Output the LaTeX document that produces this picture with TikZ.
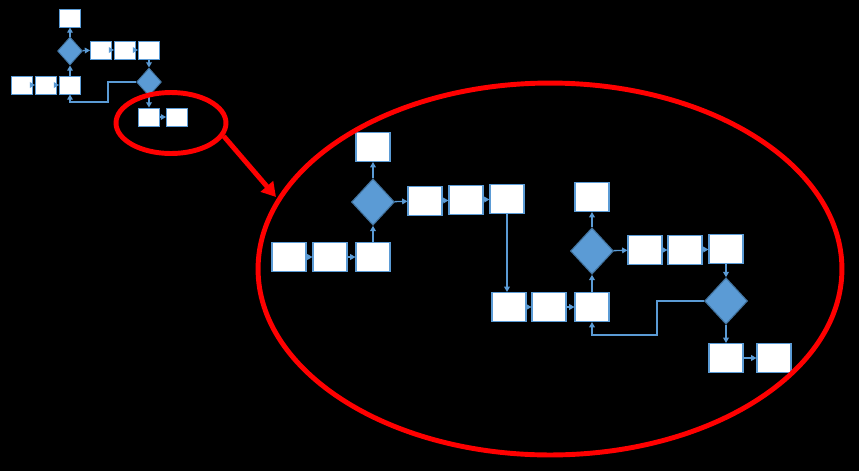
\documentclass[tikz,border=0pt]{standalone}
\usepackage{tikz}
\usetikzlibrary{arrows.meta,positioning,shapes.geometric}
\definecolor{fcBlue} {HTML}{5B9BD5}
\definecolor{fcEdge} {HTML}{41719C}
\definecolor{zmRed}  {HTML}{FF0000}

\begin{document}
\begin{tikzpicture}[x=0.02cm,y=-0.02cm,
      bs/.style={draw=fcBlue,fill=white,line width=0.5pt,inner sep=0pt,
                 minimum width=0.42cm,minimum height=0.36cm},
      bb/.style={draw=fcBlue,fill=white,line width=0.6pt,inner sep=0pt,
                 minimum width=0.68cm,minimum height=0.58cm},
      ds/.style={diamond,draw=fcEdge,fill=fcBlue,line width=0.5pt,inner sep=0pt,
                 minimum width=0.5cm,minimum height=0.56cm},
      db/.style={diamond,draw=fcEdge,fill=fcBlue,line width=0.6pt,inner sep=0pt,
                 minimum width=0.86cm,minimum height=0.93cm},
      fl/.style={-{Triangle[length=3pt,width=3.2pt]},fcBlue,line width=0.8pt},
      zm/.style={ellipse,draw=zmRed,line width=2.8pt,inner sep=0pt}]

    \fill[black] (0,0) rectangle (859,471);

    % small overview chart
    \node[bs] (sTop) at (70,18) {};
    \node[ds] (sDia1) at (70,51) {};
    \node[bs] (sR1) at (101,50) {};
    \node[bs] (sR2) at (125,50) {};
    \node[bs] (sR3) at (149,50) {};
    \node[bs] (sL1) at (22,85) {};
    \node[bs] (sL2) at (46,85) {};
    \node[bs] (sL3) at (70,85) {};
    \node[ds] (sDia2) at (149,82) {};
    \node[bs] (sB1) at (149,117) {};
    \node[bs] (sB2) at (177,117) {};

    \foreach \a/\b in {sL1/sL2,sL2/sL3,sL3/sDia1,sDia1/sTop,sDia1/sR1,sR1/sR2,sR2/sR3,
                       sR3/sDia2,sDia2/sB1,sB1/sB2}
      \draw[fl] (\a) -- (\b);
    \draw[fl] (sDia2.west) -- (108,82) -- (108,102) -- (70,102) -- (sL3.south);

    % zoomed chart
    \node[bb] (bTop1) at (373,147) {};
    \node[db] (bDia1) at (373,202) {};
    \node[bb] (bR1) at (425,201) {};
    \node[bb] (bR2) at (466,200) {};
    \node[bb] (bR3) at (507,199) {};
    \node[bb] (bL1) at (289,257) {};
    \node[bb] (bL2) at (330,257) {};
    \node[bb] (bL3) at (373,257) {};
    \node[bb] (bM1) at (509,307) {};
    \node[bb] (bM2) at (549,307) {};
    \node[bb] (bM3) at (592,307) {};
    \node[bb] (bTop2) at (592,197) {};
    \node[db] (bDia2) at (592,251) {};
    \node[bb] (bS1) at (645,250) {};
    \node[bb] (bS2) at (685,250) {};
    \node[bb] (bS3) at (726,249) {};
    \node[db] (bDia3) at (726,301) {};
    \node[bb] (bE1) at (726,358) {};
    \node[bb] (bE2) at (774,358) {};

    \foreach \a/\b in {bL1/bL2,bL2/bL3,bL3/bDia1,bDia1/bTop1,bDia1/bR1,bR1/bR2,bR2/bR3,
                       bM1/bM2,bM2/bM3,bM3/bDia2,bDia2/bTop2,bDia2/bS1,bS1/bS2,bS2/bS3,
                       bS3/bDia3,bDia3/bE1,bE1/bE2}
      \draw[fl] (\a) -- (\b);
    \draw[fl] (bR3.south) -- (bR3.south |- bM1.north);
    \draw[fl] (bDia3.west) -- (657,301) -- (657,335) -- (592,335) -- (bM3.south);

    % magnifier
    \node[zm,minimum width=2.2cm,minimum height=1.22cm] (zoomS) at (171,123) {};
    \node[zm,minimum width=11.68cm,minimum height=7.44cm] (zoomB) at (550,269) {};
    \coordinate (zoomTip) at (276,197);
    \draw[-{Triangle[length=8pt,width=9pt]},zmRed,line width=2.8pt]
      (zoomS.-14) -- (zoomTip);
  \end{tikzpicture}
\end{document}
